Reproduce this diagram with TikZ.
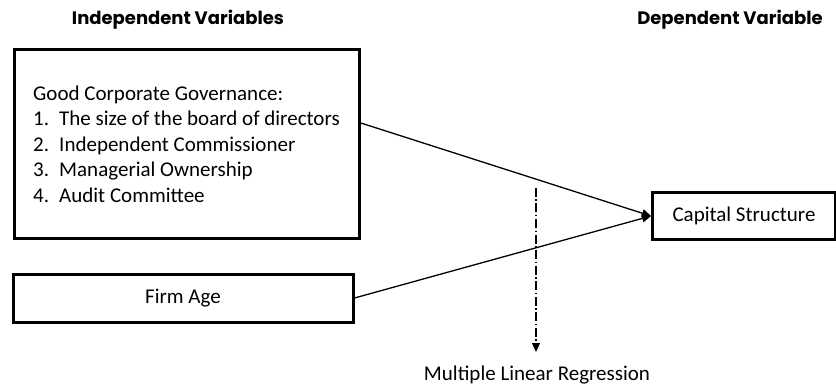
\documentclass[tikz,border=0pt]{standalone}
\usepackage{fontspec}
\setmainfont{Carlito}
\newfontfamily\headfont{Poppins}
\usetikzlibrary{arrows.meta,calc}
\begin{document}
\begin{tikzpicture}[x=1pt,y=-1pt,
  head/.style={font=\headfont\bfseries\fontsize{18}{21}\selectfont, inner sep=0pt},
  body/.style={font=\fontsize{21}{25.5}\selectfont},
  box/.style={draw, line width=3pt, body, inner sep=0pt},
  conn/.style={line width=1.3pt, -{Triangle[length=9pt,width=8pt]}},
  reg/.style={line width=1.1pt, dash pattern=on 9pt off 2.5pt on 1.5pt off 2.5pt, -{Triangle[length=9pt,width=8pt]}}
]
\useasboundingbox (0,0) rectangle (836,385);
\node[head] (ivh) at (178,20) {Independent Variables};
\node[head] (dvh) at (730,20) {Dependent Variable};

\node[box, minimum width=345pt, minimum height=189pt, align=left] (gcg) at (186.5,144)
  {Good Corporate Governance:\\
   \makebox[26pt][l]{1.}The size of the board of directors\\
   \makebox[26pt][l]{2.}Independent Commissioner\\
   \makebox[26pt][l]{3.}Managerial Ownership\\
   \makebox[26pt][l]{4.}Audit Committee};

\node[box, minimum width=340pt, minimum height=48pt] (firm) at (183,298) {Firm Age};
\node[box, minimum width=183pt, minimum height=46pt] (cap) at (744,216) {Capital Structure};

\coordinate (gcgout) at ($(gcg.north east)!0.39!(gcg.south east)$);
\draw[conn] (gcgout) -- (cap.west);
\draw[conn] (firm.east) -- (cap.west);

\coordinate (regtop) at (536,188);
\coordinate (regend) at (536,352);
\draw[reg] (regtop) -- (regend);
\node[body, inner sep=0pt] (mlr) at (537,375) {Multiple Linear Regression};
\end{tikzpicture}
\end{document}
